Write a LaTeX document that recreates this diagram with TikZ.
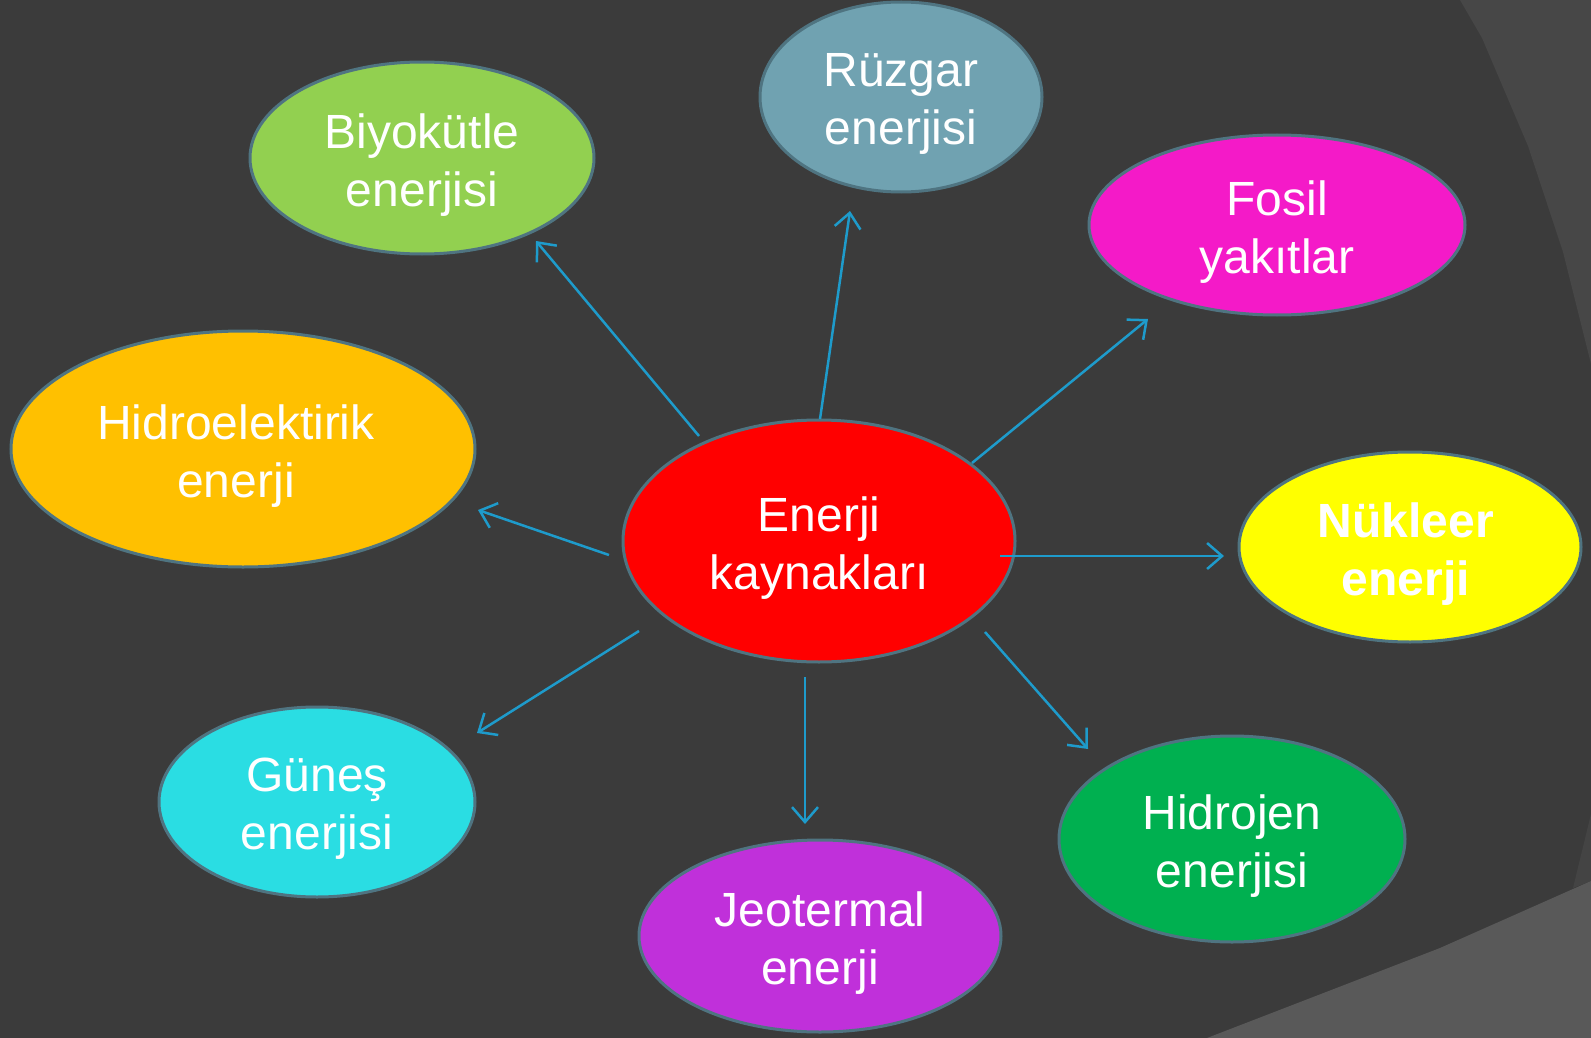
\documentclass[tikz,border=0pt]{standalone}
\usepackage{fontspec}
\setmainfont{Liberation Sans}
\usetikzlibrary{shapes.geometric,arrows.meta}
\definecolor{bgdark}{HTML}{3B3B3B}
\definecolor{bglight}{HTML}{474747}
\definecolor{bgwedge}{HTML}{444444}
\definecolor{bgbottom}{HTML}{595959}
\definecolor{rim}{HTML}{4F7481}
\definecolor{arr}{HTML}{1E9BCB}
\definecolor{cBio}{HTML}{92D050}
\definecolor{cRuz}{HTML}{70A2B1}
\definecolor{cFos}{HTML}{F41AC8}
\definecolor{cHid}{HTML}{FFC000}
\definecolor{cEne}{HTML}{FF0000}
\definecolor{cNuk}{HTML}{FFFF00}
\definecolor{cGun}{HTML}{2ADDE3}
\definecolor{cJeo}{HTML}{C030DA}
\definecolor{cHyd}{HTML}{00B050}
\tikzset{
  blob/.style={ellipse, draw=rim, line width=3pt, inner sep=0pt},
  lbl/.style={align=center, inner sep=0pt, text=white, font=\fontsize{48}{58}\selectfont},
  link/.style={draw=arr, line width=2.5pt, -{Straight Barb[length=15pt,width=26pt]}}
}
\begin{document}
\begin{tikzpicture}[x=1pt,y=-1pt]
\useasboundingbox (0,0) rectangle (1591,1038);
\fill[bgdark] (0,0) rectangle (1591,1038);
\fill[bglight] (1460,0) -- (1482,38) -- (1528,146) -- (1563,252) -- (1591,364) -- (1591,0) -- cycle;
\fill[bgwedge] (1591,814) -- (1573,888) -- (1591,881) -- cycle;
\fill[bgbottom] (1207,1038) -- (1440,948) -- (1591,881) -- (1591,1038) -- cycle;

\node[blob, fill=cBio, minimum width=344pt, minimum height=192pt] (bio) at (422,158) {};
\node[blob, fill=cRuz, minimum width=282pt, minimum height=190pt] (ruz) at (901,97) {};
\node[blob, fill=cFos, minimum width=376pt, minimum height=180pt] (fos) at (1277,225) {};
\node[blob, fill=cHid, minimum width=464pt, minimum height=236pt] (hid) at (243,449) {};
\node[blob, fill=cEne, minimum width=392pt, minimum height=242pt] (ene) at (819,541) {};
\node[blob, fill=cNuk, minimum width=342pt, minimum height=190pt] (nuk) at (1410,547) {};
\node[blob, fill=cGun, minimum width=316pt, minimum height=190pt] (gun) at (317,802) {};
\node[blob, fill=cJeo, minimum width=362pt, minimum height=192pt] (jeo) at (820,936) {};
\node[blob, fill=cHyd, minimum width=346pt, minimum height=206pt] (hyd) at (1232,839) {};

\node[lbl] (bioT) at ([yshift=-7pt]bio.center) {Biyokütle\\enerjisi};
\node[lbl] (ruzT) at ([yshift=-7pt]ruz.center) {Rüzgar\\enerjisi};
\node[lbl] (fosT) at ([yshift=-7pt]fos.center) {Fosil\\yakıtlar};
\node[lbl] (hidT) at ([xshift=-7pt,yshift=-7pt]hid.center) {Hidroelektirik\\enerji};
\node[lbl] (eneT) at ([yshift=-7pt]ene.center) {Enerji\\kaynakları};
\node[lbl, font=\fontsize{48}{58}\selectfont\bfseries] (nukT) at ([xshift=-4pt,yshift=-7pt]nuk.center) {Nükleer\\enerji};
\node[lbl] (gunT) at ([yshift=-7pt]gun.center) {Güneş\\enerjisi};
\node[lbl] (jeoT) at ([yshift=-7pt]jeo.center) {Jeotermal\\enerji};
\node[lbl] (hydT) at ([yshift=-7pt]hyd.center) {Hidrojen\\enerjisi};

\coordinate (sBio) at (699,436);  \coordinate (eBio) at (536,241);
\coordinate (sRuz) at (820,419);  \coordinate (eRuz) at (850,211);
\coordinate (sFos) at (972,463);  \coordinate (eFos) at (1148,319);
\coordinate (sNuk) at (1000,556); \coordinate (eNuk) at (1224,556);
\coordinate (sHyd) at (985,632);  \coordinate (eHyd) at (1088,749);
\coordinate (sJeo) at (805,677);  \coordinate (eJeo) at (805,824);
\coordinate (sGun) at (639,631);  \coordinate (eGun) at (477,733);
\coordinate (sHid) at (609,555);  \coordinate (eHid) at (478,510);

\draw[link] (sBio) -- (eBio);
\draw[link] (sRuz) -- (eRuz);
\draw[link] (sFos) -- (eFos);
\draw[link] (sNuk) -- (eNuk);
\draw[link] (sHyd) -- (eHyd);
\draw[link] (sJeo) -- (eJeo);
\draw[link] (sGun) -- (eGun);
\draw[link] (sHid) -- (eHid);
\end{tikzpicture}
\end{document}
